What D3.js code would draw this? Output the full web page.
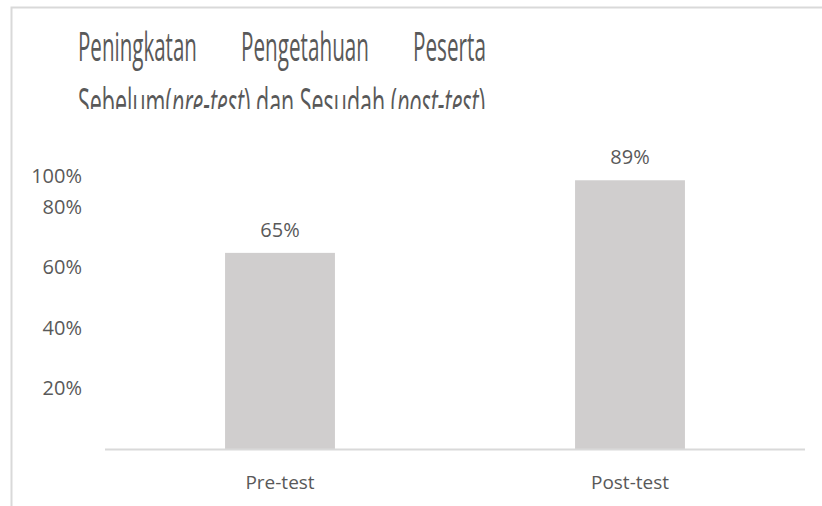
<!DOCTYPE html>
<meta charset="utf-8">
<style>
body { margin: 0; background: #fff; font-family: 'Open Sans', sans-serif; }
.frame { fill: none; stroke: #d9d9d9; stroke-width: 2; }
.bar { fill: #d0cece; }
.tick-label, .cat-label, .val-label { fill: #595959; }
.title { fill: #595959; }
</style>
<body>
<script src="https://d3js.org/d3.v7.min.js"></script>
<script>
var width = 822,
    height = 506;

// data
var categories = ["Pre-test", "Post-test"];
var values = [0.65, 0.89];
var tickValues = [0.2, 0.4, 0.6, 0.8, 1.0];

var baseY = 449.5, topY = 147, plotTop = 170;

var svg = d3.select("body").append("svg")
    .attr("width", width)
    .attr("height", height);

// chart frame (cut off at right / bottom)
svg.append("path")
    .attr("class", "frame")
    .attr("d", "M11.5," + (height + 5) + "V7.5H" + (width + 5));

var x = d3.scaleBand()
    .domain(categories)
    .range([105, 805])
    .paddingInner(0.686)
    .paddingOuter(0.343);

var y = d3.scaleLinear()
    .domain([0, 1])
    .range([baseY, topY]);

// squeeze a text horizontally so it spans [x0, x0 + w]
function fitText(sel, x0, yb, w) {
  var len = sel.node().getComputedTextLength();
  sel.attr("transform", "translate(" + x0 + "," + yb + ") scale(" + (w / len) + ",1)");
}

// title, clipped at the plot area like the original
svg.append("clipPath").attr("id", "tclip")
  .append("rect").attr("x", 0).attr("y", 0).attr("width", width).attr("height", 109);

var title = svg.append("g").attr("clip-path", "url(#tclip)");
var line1 = [["Peningkatan", 78, 119], ["Pengetahuan", 241, 128], ["Peserta", 413, 73]];
line1.forEach(function(w) {
  var t = title.append("text")
      .attr("class", "title")
      .attr("font-size", 41)
      .text(w[0]);
  fitText(t, w[1], 60.5, w[2]);
});

var l2 = title.append("text")
    .attr("class", "title")
    .attr("font-size", 41);
[["Sebelum(", false], ["pre-test", true], [") dan Sesudah (", false], ["post-test", true], [")", false]]
  .forEach(function(p) {
    l2.append("tspan").attr("font-style", p[1] ? "italic" : null).text(p[0]);
  });
fitText(l2, 78, 117, 407);

// y tick labels (the top one is kept inside the plot area)
var yAxis = d3.axisLeft(y)
    .tickValues(tickValues)
    .tickFormat(d3.format(".0%"))
    .tickSize(0)
    .tickPadding(0);

var gy = svg.append("g")
    .attr("transform", "translate(82,0)")
    .call(yAxis);
gy.select(".domain").remove();
gy.selectAll(".tick")
    .attr("transform", function(d) { return "translate(0," + Math.max(y(d), plotTop + 7) + ")"; });
gy.selectAll(".tick text")
    .attr("class", "tick-label")
    .attr("fill", "#595959")
    .attr("font-family", "'Open Sans', sans-serif")
    .attr("font-size", 20);

// bars
svg.selectAll("rect.bar")
  .data(values)
  .join("rect")
    .attr("class", "bar")
    .attr("x", function(d, i) { return x(categories[i]); })
    .attr("width", x.bandwidth())
    .attr("y", function(d) { return y(d); })
    .attr("height", function(d) { return baseY - y(d); });

// value labels
svg.selectAll("text.val-label")
  .data(values)
  .join("text")
    .attr("class", "val-label")
    .attr("x", function(d, i) { return x(categories[i]) + x.bandwidth() / 2; })
    .attr("y", function(d) { return y(d) - 16; })
    .attr("text-anchor", "middle")
    .attr("font-size", 20)
    .text(d3.format(".0%"));

// baseline
svg.append("line")
    .attr("x1", 105).attr("x2", 805)
    .attr("y1", baseY).attr("y2", baseY)
    .attr("stroke", "#d9d9d9")
    .attr("stroke-width", 2);

// category labels
svg.selectAll("text.cat-label")
  .data(categories)
  .join("text")
    .attr("class", "cat-label")
    .attr("x", function(d) { return x(d) + x.bandwidth() / 2; })
    .attr("y", 489)
    .attr("text-anchor", "middle")
    .attr("font-size", 19)
    .text(function(d) { return d; });
</script>
